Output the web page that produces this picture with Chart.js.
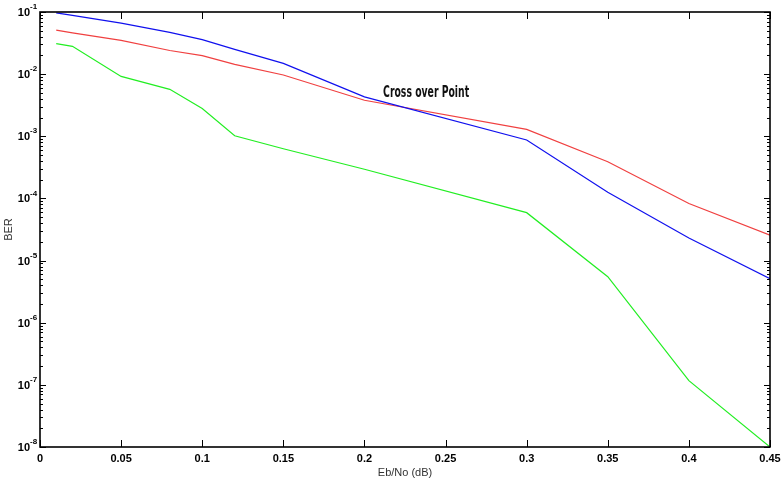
<!DOCTYPE html>
<html>
<head>
<meta charset="utf-8">
<script src="https://cdn.jsdelivr.net/npm/chart.js@4.4.1/dist/chart.umd.min.js"></script>
<style>
  html, body { margin: 0; padding: 0; background: #fff; }
  #wrap { width: 783px; height: 488px; }
</style>
</head>
<body>
<div id="wrap"><canvas id="c"></canvas></div>
<script>
// values
const ebno = [0.01, 0.02, 0.05, 0.08, 0.1, 0.12, 0.15, 0.2, 0.3, 0.35, 0.4, 0.45];
const berBlue = [0.097, 0.088, 0.066, 0.047, 0.036, 0.025, 0.0149, 0.0043, 0.00087, 0.000126, 0.000023, 0.0000051];
const berRed = [0.051, 0.046, 0.035, 0.024, 0.0199, 0.0144, 0.0097, 0.0038, 0.00129, 0.00039, 0.000083, 0.0000257];
const berGreen = [0.031, 0.028, 0.0092, 0.0057, 0.0028, 0.00102, 0.00063, 0.000295, 0.000059, 0.0000055, 0.000000117, 0.00000001];

const xTicks = [0, 0.05, 0.1, 0.15, 0.2, 0.25, 0.3, 0.35, 0.4, 0.45];
const xTickLabels = ['0', '0.05', '0.1', '0.15', '0.2', '0.25', '0.3', '0.35', '0.4', '0.45'];
const yExponents = [-8, -7, -6, -5, -4, -3, -2, -1];

const noteText = 'Cross over Point';
const noteAt = { x: 0.2115, y: 0.005 };

const pts = (ys) => ebno.map((x, i) => ({ x: x, y: ys[i] }));

// frame, inside ticks, y labels with superscripts, annotation
const matlabAxes = {
  id: 'matlabAxes',
  afterDraw(chart) {
    const ctx = chart.ctx;
    const a = chart.chartArea;
    const xs = chart.scales.x;
    const ys = chart.scales.y;
    ctx.save();
    ctx.strokeStyle = '#000';
    ctx.lineWidth = 1;
    ctx.beginPath();
    xTicks.forEach((v) => {
      const px = Math.round(xs.getPixelForValue(v)) + 0.5;
      ctx.moveTo(px, a.bottom); ctx.lineTo(px, a.bottom - 7);
      ctx.moveTo(px, a.top); ctx.lineTo(px, a.top + 7);
    });
    yExponents.forEach((e) => {
      const py = Math.round(ys.getPixelForValue(Math.pow(10, e))) + 0.5;
      ctx.moveTo(a.left, py); ctx.lineTo(a.left + 6, py);
      ctx.moveTo(a.right, py); ctx.lineTo(a.right - 6, py);
      if (e < -1) {
        for (let k = 2; k <= 9; k++) {
          const my = Math.round(ys.getPixelForValue(k * Math.pow(10, e))) + 0.5;
          ctx.moveTo(a.left, my); ctx.lineTo(a.left + 3, my);
          ctx.moveTo(a.right, my); ctx.lineTo(a.right - 3, my);
        }
      }
    });
    ctx.stroke();

    ctx.lineWidth = 1.6;
    ctx.strokeRect(a.left, a.top, a.right - a.left, a.bottom - a.top);

    // y labels 10^n
    ctx.fillStyle = '#000';
    yExponents.forEach((e) => {
      const py = ys.getPixelForValue(Math.pow(10, e));
      ctx.font = 'bold 11px "Liberation Sans", Arial, sans-serif';
      ctx.textAlign = 'right';
      ctx.textBaseline = 'middle';
      ctx.fillText('10', 30, py + 1);
      ctx.font = 'bold 8px "Liberation Sans", Arial, sans-serif';
      ctx.textAlign = 'left';
      ctx.fillText(String(e), 30, py - 5);
    });

    // annotation text, narrow bold face
    const nx = xs.getPixelForValue(noteAt.x);
    const ny = ys.getPixelForValue(noteAt.y);
    ctx.font = 'bold 16px "DejaVu Sans Condensed", "DejaVu Sans", sans-serif';
    ctx.textAlign = 'left';
    ctx.textBaseline = 'middle';
    const w = ctx.measureText(noteText).width;
    ctx.translate(nx, ny);
    ctx.scale(86 / w, 1);
    ctx.fillStyle = '#111';
    ctx.fillText(noteText, 0, 0);
    ctx.restore();
  }
};

new Chart(document.getElementById('c'), {
  type: 'line',
  data: {
    datasets: [
      { label: 'blue', data: pts(berBlue), borderColor: '#1010ee', borderWidth: 1.2, pointRadius: 0, tension: 0 },
      { label: 'red', data: pts(berRed), borderColor: '#f04040', borderWidth: 1.2, pointRadius: 0, tension: 0 },
      { label: 'green', data: pts(berGreen), borderColor: '#22ee22', borderWidth: 1.2, pointRadius: 0, tension: 0 }
    ]
  },
  options: {
    responsive: true,
    maintainAspectRatio: false,
    animation: false,
    layout: { padding: { top: 12, right: 13, left: 0, bottom: 0 } },
    plugins: { legend: { display: false }, tooltip: { enabled: false } },
    scales: {
      x: {
        type: 'linear',
        min: 0,
        max: 0.45,
        afterBuildTicks: (s) => { s.ticks = xTicks.map((v) => ({ value: v })); },
        afterFit: (s) => { s.height = 41; s.paddingRight = 0; s.paddingLeft = 0; },
        grid: { display: false, drawTicks: false },
        border: { display: false },
        ticks: {
          padding: 5,
          maxRotation: 0,
          autoSkip: false,
          color: '#000',
          font: { family: '"Liberation Sans", Arial, sans-serif', size: 11, weight: 'bold' },
          callback: (v) => { const i = xTicks.indexOf(v); return i >= 0 ? xTickLabels[i] : ''; }
        },
        title: {
          display: true,
          text: 'Eb/No (dB)',
          color: '#333',
          font: { family: '"Liberation Sans", Arial, sans-serif', size: 11 },
          padding: { top: 0, bottom: 8 }
        }
      },
      y: {
        type: 'logarithmic',
        min: 1e-8,
        max: 1e-1,
        afterFit: (s) => { s.width = 40; },
        grid: { display: false, drawTicks: false },
        border: { display: false },
        ticks: { display: false },
        title: {
          display: true,
          text: 'BER',
          color: '#333',
          font: { family: '"Liberation Sans", Arial, sans-serif', size: 11 },
          padding: { top: 2, bottom: 0 }
        }
      }
    }
  },
  plugins: [matlabAxes]
});
</script>
</body>
</html>
